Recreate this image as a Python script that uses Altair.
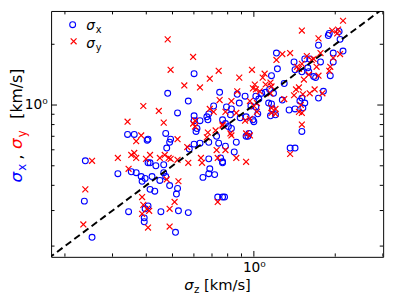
import altair as alt
import pandas as pd

# sigma_z (x) and sigma_x (y) for the blue circles
bx_z = [0.341,0.361,0.403,0.238,0.406,0.314,0.352,0.367,0.383,0.396,0.386,0.236,0.344,0.396,0.393,0.393,0.252,
        0.601,0.480,0.747,0.572,0.522,0.710,0.670,0.681,0.601,0.601,0.632,0.676,0.616,0.766,0.472,0.611,
        0.406,0.488,0.492,0.476,0.601,0.632,0.681,0.728,0.741,0.577,0.681,0.753,0.766,0.413,0.434,0.464,
        0.687,0.716,0.681,0.648,0.420,0.464,0.472,0.449,0.488,0.522,0.413,0.430,0.517,0.735,0.766,0.406,
        0.453,0.526,0.572,0.513,
        1.212,1.408,1.222,1.420,1.505,1.162,1.295,1.143,1.105,0.868,0.928,1.017,1.069,1.182,1.274,1.505,
        1.480,1.518,0.883,0.975,1.017,1.043,1.134,1.162,1.172,1.202,1.152,1.034,1.350,1.420,0.792,0.826,
        0.819,0.890,0.936,0.992,1.000,0.785,0.805,0.826,0.959,0.936,0.951,0.861,0.785,0.846,0.766,1.362,
        1.420,0.779,1.505,
        1.901,1.885,2.067,2.084,1.734,2.137,1.966,1.966,1.543,1.609,1.764,1.583,1.596,1.664,1.692,1.917,
        1.808,1.734,1.543]
bx_x = [0.715,0.715,0.669,0.529,0.517,0.457,0.467,0.462,0.442,0.433,0.419,0.334,0.296,0.306,0.276,0.264,0.221,
        1.430,1.143,1.156,1.046,0.914,0.989,0.874,0.904,0.884,0.836,0.836,0.845,0.765,0.845,0.723,0.740,
        0.677,0.654,0.677,0.612,0.640,0.647,0.654,0.700,0.647,0.605,0.541,0.547,0.517,0.517,0.500,0.506,
        0.483,0.452,0.457,0.438,0.442,0.462,0.442,0.423,0.399,0.386,0.382,0.374,0.362,0.350,0.350,0.316,
        0.296,0.299,0.293,0.234,
        1.809,1.635,1.512,1.495,1.462,1.398,1.278,1.195,1.156,1.131,1.106,1.106,1.143,1.143,1.058,1.082,
        1.046,0.967,1.023,0.989,0.978,1.070,1.023,1.012,0.956,0.894,0.884,0.904,0.945,0.956,0.978,0.956,
        0.894,0.865,0.874,0.845,0.827,0.809,0.782,0.765,0.723,0.700,0.700,0.654,0.625,0.585,0.523,0.612,
        0.612,0.350,0.740,
        2.262,2.211,2.313,2.115,1.978,1.850,1.809,1.635,1.691,1.691,1.635,1.529,1.462,1.383,1.367,1.398,
        1.169,1.082,1.023]

# sigma_z (x) and sigma_y (y) for the red crosses
ry_z = [0.390,0.341,0.383,0.367,0.252,0.314,0.352,0.361,0.367,0.399,0.344,0.238,0.386,0.390,0.386,0.403,0.234,0.406,
        0.480,0.596,0.492,0.741,0.687,0.553,0.632,0.747,0.445,0.687,0.710,0.606,0.464,0.596,0.606,0.766,0.676,0.722,
        0.522,0.670,0.567,0.728,0.735,0.413,0.449,0.468,0.484,0.492,0.522,0.637,0.643,0.572,0.476,0.526,0.509,0.735,
        0.410,0.488,0.488,
        1.505,1.362,1.274,1.212,1.444,1.505,1.468,0.984,1.096,0.883,1.078,1.152,1.105,1.008,0.992,1.162,1.017,1.468,
        1.432,0.868,1.051,1.152,1.295,1.408,1.518,1.492,0.826,0.967,1.026,1.000,1.162,1.202,1.202,1.162,1.026,1.468,
        1.505,0.785,0.861,0.928,0.967,0.766,0.819,0.936,1.505,0.826,0.967,0.785,0.861,0.936,1.362,
        2.137,1.949,2.049,2.033,1.734,1.764,2.084,1.966,1.570,1.664,1.636,1.706,1.917,1.901,1.596,1.734,1.531,1.609,
        1.678,1.793]
ry_y = [0.989,0.827,0.707,0.662,0.529,0.547,0.566,0.579,0.547,0.541,0.483,0.382,0.350,0.320,0.289,0.306,0.256,0.247,
        2.115,1.730,1.495,1.478,1.351,1.250,1.222,1.058,0.935,0.956,0.925,0.836,0.818,0.809,0.782,0.800,0.731,0.748,
        0.677,0.692,0.619,0.598,0.547,0.566,0.547,0.566,0.547,0.541,0.535,0.547,0.517,0.517,0.428,0.419,0.331,0.331,
        0.299,0.306,0.250,
        2.339,1.809,1.789,1.672,1.546,1.599,1.512,1.495,1.430,1.367,1.367,1.292,1.264,1.264,1.209,1.236,1.195,1.222,
        1.195,1.169,1.169,1.143,1.070,1.118,1.131,1.000,1.046,1.046,1.023,0.989,0.967,0.956,0.904,0.914,0.925,0.925,
        0.914,0.925,0.914,0.836,0.855,0.791,0.723,0.723,0.800,0.707,0.707,0.598,0.547,0.523,0.572,
        2.615,2.339,2.366,2.262,2.139,1.809,1.789,1.710,1.749,1.691,1.672,1.546,1.546,1.478,1.414,1.398,1.337,1.143,
        1.195,1.143]

one_to_one = [0.15, 3.5]
major_ticks = [1.0]
minor_ticks = [0.2, 0.3, 0.4, 0.5, 0.6, 0.7, 0.8, 0.9, 2.0, 3.0]

W, H = 339, 251
XDOM = [0.1778, 3.008]
YDOM = [0.1769, 2.924]
BLUE = "#0000ff"
RED = "#ff0000"
FONT = "DejaVu Sans"

xs = alt.Scale(type="log", domain=XDOM, nice=False)
ys = alt.Scale(type="log", domain=YDOM, nice=False)
AX = alt.Axis(values=[1], labelExpr="'10⁰'", ticks=False, tickSize=0, domain=False, grid=False,
              labelFontSize=14, labelFont=FONT, labelColor="black", labelPadding=4, title=None)
AY = alt.Axis(values=[1], labelExpr="'10⁰'", ticks=False, tickSize=0, domain=False, grid=False,
              labelFontSize=14, labelFont=FONT, labelColor="black", labelPadding=4, title=None)

df_b = pd.DataFrame({"z": bx_z, "v": bx_x})
df_r = pd.DataFrame({"z": ry_z, "v": ry_y})

pts_b = alt.Chart(df_b).mark_point(shape="circle", filled=False, stroke=BLUE, strokeWidth=1.1,
                                   size=36, opacity=1, clip=True).encode(
    x=alt.X("z:Q", scale=xs, axis=AX), y=alt.Y("v:Q", scale=ys, axis=AY))
pts_r = alt.Chart(df_r).mark_point(shape="M-1,-1L1,1M1,-1L-1,1", filled=False, stroke=RED, strokeWidth=1.2,
                                   size=36, opacity=1, clip=True).encode(
    x=alt.X("z:Q", scale=xs, axis=AX), y=alt.Y("v:Q", scale=ys, axis=AY))

line = alt.Chart(pd.DataFrame({"a": one_to_one})).mark_line(
    color="black", strokeWidth=2, strokeDash=[7, 4], clip=True).encode(
    x=alt.X("a:Q", scale=xs, axis=AX), y=alt.Y("a:Q", scale=ys, axis=AY))

layers = [pts_b, pts_r, line]

def tick_layers(vals, L):
    d = pd.DataFrame({"t": vals})
    m = dict(color="black", strokeWidth=1, clip=True)
    xb = alt.X("t:Q", scale=xs, axis=AX)
    yb = alt.Y("t:Q", scale=ys, axis=AY)
    return [
        alt.Chart(d).mark_rule(**m).encode(x=xb, y=alt.value(H), y2=alt.value(H - L)),
        alt.Chart(d).mark_rule(**m).encode(x=xb, y=alt.value(0), y2=alt.value(L)),
        alt.Chart(d).mark_rule(**m).encode(y=yb, x=alt.value(0), x2=alt.value(L)),
        alt.Chart(d).mark_rule(**m).encode(y=yb, x=alt.value(W), x2=alt.value(W - L)),
    ]

layers += tick_layers(major_ticks, 6)
layers += tick_layers(minor_ticks, 3.5)

def txt(s, x, y, size=15, color="black", italic=False, angle=0):
    kw = dict(text=s, font=FONT, fontSize=size, color=color, align="left", baseline="alphabetic")
    if italic:
        kw["fontStyle"] = "italic"
    if angle:
        kw["angle"] = angle
    return alt.Chart(pd.DataFrame({"k": [0]})).mark_text(**kw).encode(x=alt.value(x), y=alt.value(y))

# legend
layers.append(alt.Chart(pd.DataFrame({"k": [0]})).mark_point(
    shape="circle", filled=False, stroke=BLUE, strokeWidth=1.1, size=36, opacity=1).encode(
    x=alt.value(22), y=alt.value(14)))
layers.append(alt.Chart(pd.DataFrame({"k": [0]})).mark_point(
    shape="M-1,-1L1,1M1,-1L-1,1", filled=False, stroke=RED, strokeWidth=1.2, size=36, opacity=1).encode(
    x=alt.value(23), y=alt.value(31)))
layers += [txt("σ", 36, 19.5, 14, italic=True), txt("x", 45.5, 22, 10),
           txt("σ", 36, 38, 14, italic=True), txt("y", 45.5, 41, 10)]

# x title
layers += [txt("σ", 136, 285, 15, italic=True), txt("z", 146, 288, 10.5), txt("[km/s]", 156, 285, 15)]

# y title (rotated, multicoloured)
layers += [txt("σ", -30, 175, 17, BLUE, True, 270), txt("x", -26, 163, 12, BLUE, False, 270),
           txt(",", -30, 152, 17, "black", False, 270),
           txt("σ", -30, 141, 17, RED, True, 270), txt("y", -26, 129, 12, RED, False, 270),
           txt("[km/s]", -30, 110, 16, "black", False, 270)]

chart = alt.layer(*layers).properties(
    width=W, height=H,
    autosize=alt.AutoSizeParams(type="none"),
    padding={"left": 44, "top": 0, "right": 8, "bottom": 40},
).configure_view(stroke="black", strokeWidth=1)

chart.save("out.html", embed_options={"renderer": "svg", "actions": False})
